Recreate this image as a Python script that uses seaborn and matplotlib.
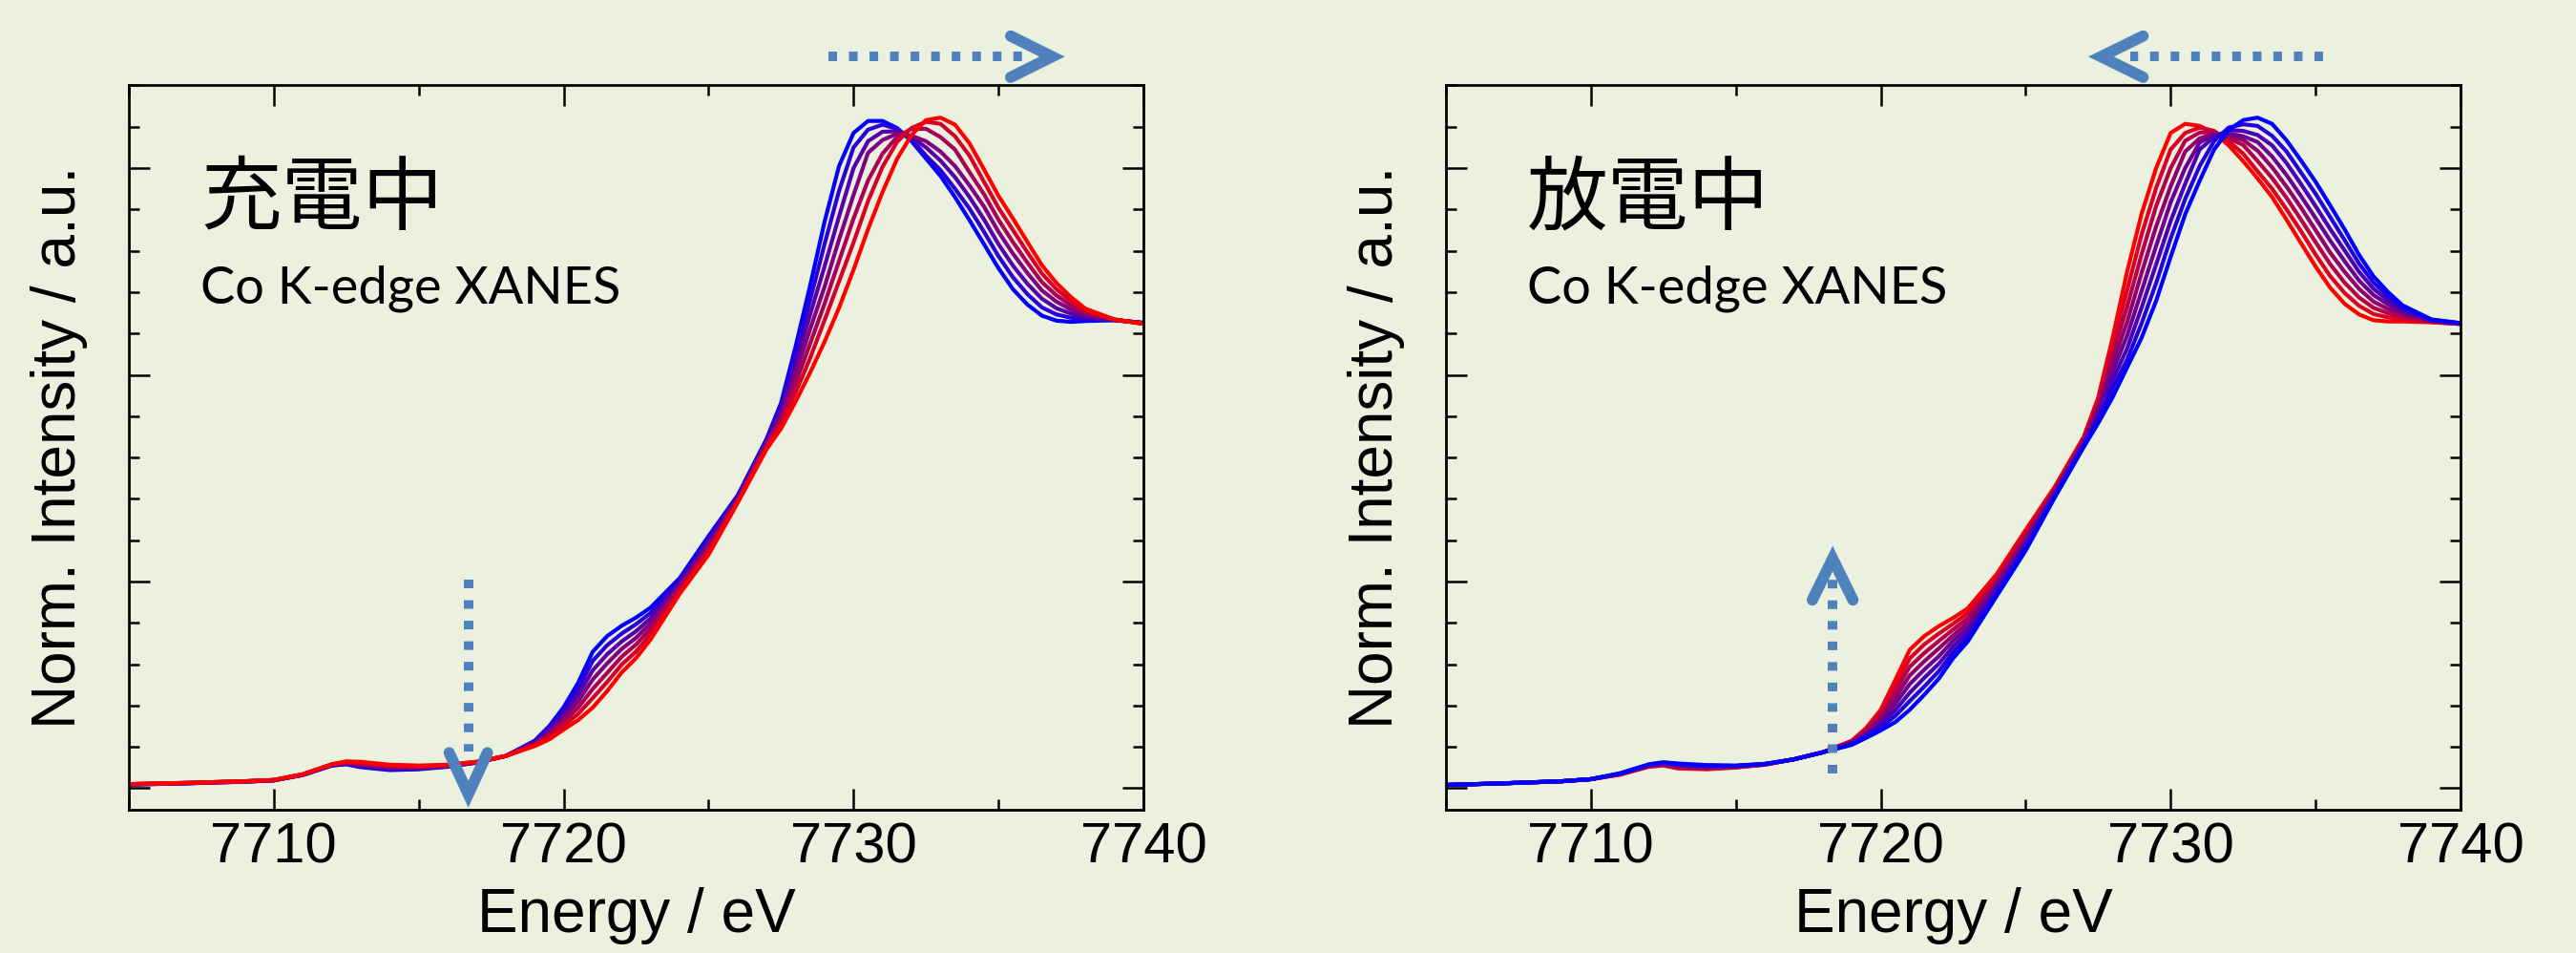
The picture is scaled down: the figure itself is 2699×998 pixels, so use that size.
import matplotlib
matplotlib.use("Agg")
import matplotlib.pyplot as plt
import pandas as pd
import seaborn as sns
from matplotlib.lines import Line2D
from matplotlib.ticker import MultipleLocator, NullFormatter

# ---------------- data ----------------
energy = [7705, 7707, 7709, 7710, 7711, 7712, 7712.5, 7713, 7714, 7715,
          7716, 7717, 7718, 7719, 7719.5, 7720, 7720.5, 7721, 7721.5, 7722,
          7722.5, 7723, 7724, 7725, 7726, 7727, 7727.5, 7728, 7728.5, 7729,
          7729.5, 7730, 7730.5, 7731, 7731.5, 7732, 7732.5, 7733, 7733.5, 7734,
          7734.5, 7735, 7735.5, 7736, 7736.5, 7737, 7737.5, 7738, 7739, 7740]

# charging (充電中): first spectrum (blue) -> last spectrum (red)
chg_0 = [0.009, 0.012, 0.016, 0.019, 0.032, 0.055, 0.058, 0.051, 0.044, 0.046,
         0.052, 0.062, 0.078, 0.115, 0.150, 0.196, 0.255, 0.330, 0.368, 0.393,
         0.413, 0.437, 0.508, 0.610, 0.708, 0.845, 0.932, 1.068, 1.215, 1.370,
         1.505, 1.585, 1.614, 1.614, 1.597, 1.565, 1.523, 1.481, 1.430, 1.374,
         1.316, 1.258, 1.207, 1.170, 1.143, 1.131, 1.128, 1.130, 1.132, 1.126]
chg_1 = [0.009, 0.012, 0.016, 0.019, 0.032, 0.055, 0.059, 0.053, 0.046, 0.047,
         0.053, 0.062, 0.078, 0.113, 0.145, 0.187, 0.240, 0.308, 0.346, 0.374,
         0.397, 0.424, 0.502, 0.603, 0.705, 0.841, 0.922, 1.046, 1.180, 1.316,
         1.445, 1.550, 1.593, 1.605, 1.595, 1.570, 1.530, 1.495, 1.450, 1.402,
         1.346, 1.287, 1.236, 1.195, 1.163, 1.146, 1.138, 1.135, 1.132, 1.126]
chg_2 = [0.009, 0.012, 0.016, 0.019, 0.033, 0.056, 0.060, 0.055, 0.048, 0.049,
         0.054, 0.063, 0.078, 0.111, 0.139, 0.178, 0.225, 0.285, 0.324, 0.355,
         0.380, 0.411, 0.495, 0.595, 0.702, 0.837, 0.911, 1.024, 1.145, 1.262,
         1.383, 1.500, 1.565, 1.588, 1.589, 1.575, 1.550, 1.518, 1.478, 1.430,
         1.376, 1.316, 1.264, 1.220, 1.184, 1.161, 1.148, 1.140, 1.133, 1.125]
chg_3 = [0.010, 0.013, 0.017, 0.020, 0.033, 0.057, 0.061, 0.057, 0.050, 0.050,
         0.054, 0.063, 0.078, 0.108, 0.134, 0.169, 0.210, 0.263, 0.302, 0.337,
         0.364, 0.399, 0.489, 0.588, 0.699, 0.833, 0.901, 1.002, 1.110, 1.213,
         1.327, 1.435, 1.537, 1.568, 1.583, 1.578, 1.565, 1.540, 1.505, 1.458,
         1.407, 1.346, 1.293, 1.246, 1.204, 1.177, 1.158, 1.145, 1.133, 1.125]
chg_4 = [0.010, 0.013, 0.017, 0.020, 0.033, 0.057, 0.063, 0.060, 0.053, 0.052,
         0.055, 0.063, 0.078, 0.106, 0.129, 0.160, 0.195, 0.240, 0.279, 0.318,
         0.348, 0.386, 0.483, 0.580, 0.696, 0.828, 0.891, 0.979, 1.075, 1.172,
         1.275, 1.378, 1.470, 1.535, 1.575, 1.595, 1.595, 1.575, 1.545, 1.490,
         1.437, 1.375, 1.321, 1.271, 1.224, 1.192, 1.168, 1.150, 1.133, 1.124]
chg_5 = [0.010, 0.013, 0.017, 0.020, 0.034, 0.058, 0.064, 0.062, 0.055, 0.053,
         0.056, 0.064, 0.078, 0.104, 0.123, 0.151, 0.180, 0.218, 0.257, 0.299,
         0.331, 0.373, 0.476, 0.573, 0.693, 0.824, 0.880, 0.957, 1.040, 1.132,
         1.226, 1.320, 1.420, 1.503, 1.563, 1.597, 1.612, 1.607, 1.577, 1.530,
         1.467, 1.404, 1.350, 1.296, 1.245, 1.207, 1.178, 1.155, 1.134, 1.124]
chg_6 = [0.010, 0.013, 0.017, 0.020, 0.034, 0.058, 0.065, 0.064, 0.057, 0.055,
         0.057, 0.064, 0.078, 0.102, 0.118, 0.142, 0.165, 0.195, 0.235, 0.280,
         0.315, 0.360, 0.470, 0.565, 0.690, 0.820, 0.870, 0.935, 1.005, 1.080,
         1.162, 1.254, 1.352, 1.442, 1.522, 1.580, 1.616, 1.622, 1.605, 1.560,
         1.497, 1.433, 1.378, 1.321, 1.265, 1.222, 1.188, 1.160, 1.134, 1.123]

# discharging (放電中): first spectrum (red) -> last spectrum (blue)
dis_0 = [0.008, 0.012, 0.017, 0.022, 0.033, 0.052, 0.055, 0.048, 0.046, 0.050,
         0.057, 0.070, 0.087, 0.115, 0.146, 0.190, 0.262, 0.335, 0.368, 0.392,
         0.412, 0.435, 0.518, 0.625, 0.729, 0.850, 0.945, 1.090, 1.250, 1.390,
         1.500, 1.585, 1.607, 1.602, 1.585, 1.555, 1.517, 1.475, 1.430, 1.375,
         1.318, 1.262, 1.211, 1.172, 1.146, 1.132, 1.129, 1.129, 1.127, 1.123]
dis_1 = [0.008, 0.012, 0.017, 0.022, 0.033, 0.053, 0.056, 0.050, 0.047, 0.051,
         0.057, 0.070, 0.087, 0.114, 0.143, 0.183, 0.247, 0.314, 0.348, 0.374,
         0.398, 0.424, 0.510, 0.618, 0.725, 0.846, 0.936, 1.069, 1.205, 1.340,
         1.452, 1.545, 1.585, 1.598, 1.590, 1.565, 1.535, 1.492, 1.450, 1.400,
         1.347, 1.291, 1.239, 1.198, 1.167, 1.147, 1.139, 1.135, 1.128, 1.123]
dis_2 = [0.008, 0.012, 0.017, 0.022, 0.034, 0.054, 0.057, 0.051, 0.049, 0.051,
         0.058, 0.070, 0.087, 0.112, 0.139, 0.176, 0.233, 0.294, 0.327, 0.356,
         0.384, 0.412, 0.503, 0.611, 0.722, 0.843, 0.927, 1.049, 1.165, 1.292,
         1.408, 1.500, 1.566, 1.586, 1.587, 1.572, 1.556, 1.517, 1.476, 1.428,
         1.375, 1.321, 1.268, 1.223, 1.187, 1.162, 1.149, 1.140, 1.129, 1.123]
dis_3 = [0.008, 0.012, 0.017, 0.022, 0.034, 0.055, 0.058, 0.053, 0.050, 0.052,
         0.058, 0.070, 0.087, 0.111, 0.136, 0.169, 0.218, 0.273, 0.307, 0.338,
         0.370, 0.401, 0.495, 0.604, 0.718, 0.839, 0.918, 1.028, 1.128, 1.247,
         1.359, 1.456, 1.540, 1.572, 1.583, 1.578, 1.568, 1.542, 1.502, 1.455,
         1.404, 1.350, 1.296, 1.249, 1.208, 1.177, 1.159, 1.146, 1.130, 1.124]
dis_4 = [0.008, 0.012, 0.017, 0.022, 0.035, 0.055, 0.060, 0.055, 0.052, 0.053,
         0.058, 0.070, 0.087, 0.109, 0.132, 0.161, 0.204, 0.252, 0.287, 0.319,
         0.357, 0.389, 0.488, 0.596, 0.714, 0.836, 0.910, 1.008, 1.095, 1.203,
         1.312, 1.417, 1.500, 1.562, 1.580, 1.584, 1.577, 1.563, 1.528, 1.483,
         1.432, 1.379, 1.325, 1.275, 1.228, 1.193, 1.170, 1.151, 1.131, 1.124]
dis_5 = [0.008, 0.012, 0.017, 0.022, 0.035, 0.056, 0.061, 0.057, 0.053, 0.054,
         0.058, 0.070, 0.087, 0.108, 0.129, 0.154, 0.189, 0.231, 0.267, 0.301,
         0.343, 0.378, 0.480, 0.589, 0.710, 0.832, 0.901, 0.987, 1.064, 1.163,
         1.267, 1.372, 1.462, 1.545, 1.575, 1.592, 1.590, 1.580, 1.555, 1.512,
         1.461, 1.408, 1.353, 1.301, 1.249, 1.208, 1.180, 1.157, 1.132, 1.124]
dis_6 = [0.008, 0.012, 0.017, 0.022, 0.036, 0.057, 0.062, 0.058, 0.055, 0.054,
         0.059, 0.070, 0.087, 0.106, 0.125, 0.147, 0.175, 0.211, 0.246, 0.283,
         0.329, 0.366, 0.473, 0.582, 0.707, 0.829, 0.892, 0.967, 1.037, 1.125,
         1.222, 1.330, 1.425, 1.505, 1.565, 1.598, 1.606, 1.602, 1.578, 1.540,
         1.489, 1.438, 1.382, 1.326, 1.269, 1.223, 1.190, 1.162, 1.133, 1.125]
dis_7 = [0.008, 0.012, 0.017, 0.022, 0.036, 0.058, 0.063, 0.060, 0.056, 0.055,
         0.059, 0.070, 0.087, 0.105, 0.122, 0.140, 0.160, 0.190, 0.226, 0.265,
         0.315, 0.355, 0.465, 0.575, 0.703, 0.825, 0.883, 0.946, 1.018, 1.090,
         1.179, 1.285, 1.388, 1.469, 1.545, 1.592, 1.616, 1.622, 1.607, 1.567,
         1.518, 1.467, 1.410, 1.352, 1.290, 1.238, 1.200, 1.168, 1.134, 1.125]

x_ticks = [7710, 7720, 7730, 7740]
x_tick_labels = ["7710", "7720", "7730", "7740"]
titles = ["充電中", "放電中"]
subtitle = "Co K-edge XANES"
x_label = "Energy / eV"
y_label = "Norm. Intensity / a.u."

# ---------------- style ----------------
sns.set_theme(style="ticks")
plt.rcParams["font.family"] = ["Liberation Sans", "Noto Sans CJK JP", "DejaVu Sans"]
plt.rcParams["lines.scale_dashes"] = False

BG = "#EBF1DE"
ARROW = "#4F81BD"


def gradient(n, start, end):
    cols = []
    for i in range(n):
        f = i / (n - 1)
        cols.append(tuple(start[j] + (end[j] - start[j]) * f for j in range(3)))
    return cols


BLUE = (0.0, 0.0, 1.0)
RED = (1.0, 0.0, 0.0)


def long_frame(curves):
    rows = []
    for i, c in enumerate(curves):
        for e, v in zip(energy, c):
            rows.append((f"s{i}", e, v))
    return pd.DataFrame(rows, columns=["spectrum", "energy", "intensity"])


fig = plt.figure(figsize=(26.99, 9.98), dpi=100, facecolor=BG)
axL = fig.add_axes([0.05002, 0.1503, 0.39385, 0.76052])
axR = fig.add_axes([0.56132, 0.1503, 0.39385, 0.76052])

charge = [chg_0, chg_1, chg_2, chg_3, chg_4, chg_5, chg_6]
discharge = [dis_0, dis_1, dis_2, dis_3, dis_4, dis_5, dis_6, dis_7]

panels = [
    (axL, charge, gradient(len(charge), BLUE, RED)),
    (axR, discharge, gradient(len(discharge), RED, BLUE)),
]

for ax, curves, pal in panels:
    df = long_frame(curves)
    order = [f"s{i}" for i in range(len(curves))]
    sns.lineplot(data=df, x="energy", y="intensity", hue="spectrum",
                 hue_order=order, palette=pal, sort=False, estimator=None,
                 legend=False, linewidth=3.0, ax=ax)


def style(ax):
    ax.set_facecolor(BG)
    ax.set_xlim(7705, 7740)
    ax.set_ylim(-0.052, 1.701)
    ax.set_xticks(x_ticks, labels=x_tick_labels)
    ax.xaxis.set_minor_locator(MultipleLocator(5))
    ax.yaxis.set_major_locator(MultipleLocator(0.5))
    ax.yaxis.set_minor_locator(MultipleLocator(0.1))
    ax.yaxis.set_major_formatter(NullFormatter())
    ax.tick_params(which="both", direction="in", top=True, right=True,
                   left=True, bottom=True, color="black")
    ax.tick_params(which="major", length=16, width=1.8, labelsize=43,
                   pad=9, labelcolor="black")
    ax.tick_params(which="minor", length=8, width=1.8)
    for s in ax.spines.values():
        s.set_visible(True)
        s.set_color("black")
        s.set_linewidth(2.0)
    ax.set_xlabel(x_label, fontsize=46, labelpad=10, color="black")
    ax.set_ylabel(y_label, fontsize=46, labelpad=22, color="black")
    ax.grid(False)


style(axL)
style(axR)

# panel texts
for ax, title, xpos in [(axL, titles[0], 0.0706), (axR, titles[1], 0.080)]:
    ax.text(xpos, 0.809, title, transform=ax.transAxes, fontsize=61,
            family=["Noto Sans CJK JP"], va="baseline", ha="left", color="black")
    ax.text(xpos, 0.6996, subtitle, transform=ax.transAxes, fontsize=39,
            family=["Lato", "DejaVu Sans"], va="baseline", ha="left", color="black")


# arrows (annotations)
def dotted(ax, xs, ys, transform):
    ax.add_line(Line2D(xs, ys, transform=transform, color=ARROW, lw=7.2,
                       linestyle=(0, (6.5, 9.0)), dash_capstyle="butt",
                       clip_on=False, zorder=5))


def chevron(ax, xs, ys, transform):
    ax.add_line(Line2D(xs, ys, transform=transform, color=ARROW, lw=8.5,
                       solid_capstyle="round", solid_joinstyle="miter",
                       clip_on=False, zorder=5))


# left panel: top arrow pointing right, vertical arrow pointing down
tL = axL.get_xaxis_transform()
dotted(axL, [7729.14, 7735.84], [1.0391, 1.0391], tL)
chevron(axL, [7735.42, 7736.85, 7735.42], [1.0676, 1.0391, 1.0106], tL)
dotted(axL, [7716.71, 7716.71], [0.5053, 0.0896], axL.transData)
chevron(axL, [7716.05, 7716.71, 7717.37], [0.0859, -0.0143, 0.0859], axL.transData)

# right panel: top arrow pointing left, vertical arrow pointing up
tR = axR.get_xaxis_transform()
dotted(axR, [7735.26, 7728.60], [1.0391, 1.0391], tR)
chevron(axR, [7729.05, 7727.60, 7729.05], [1.0676, 1.0391, 1.0106], tR)
dotted(axR, [7718.34, 7718.34], [0.0358, 0.505], axR.transData)
chevron(axR, [7717.64, 7718.34, 7719.04], [0.4554, 0.5554, 0.4554], axR.transData)

fig.savefig("out.png", dpi=100, facecolor=BG)
